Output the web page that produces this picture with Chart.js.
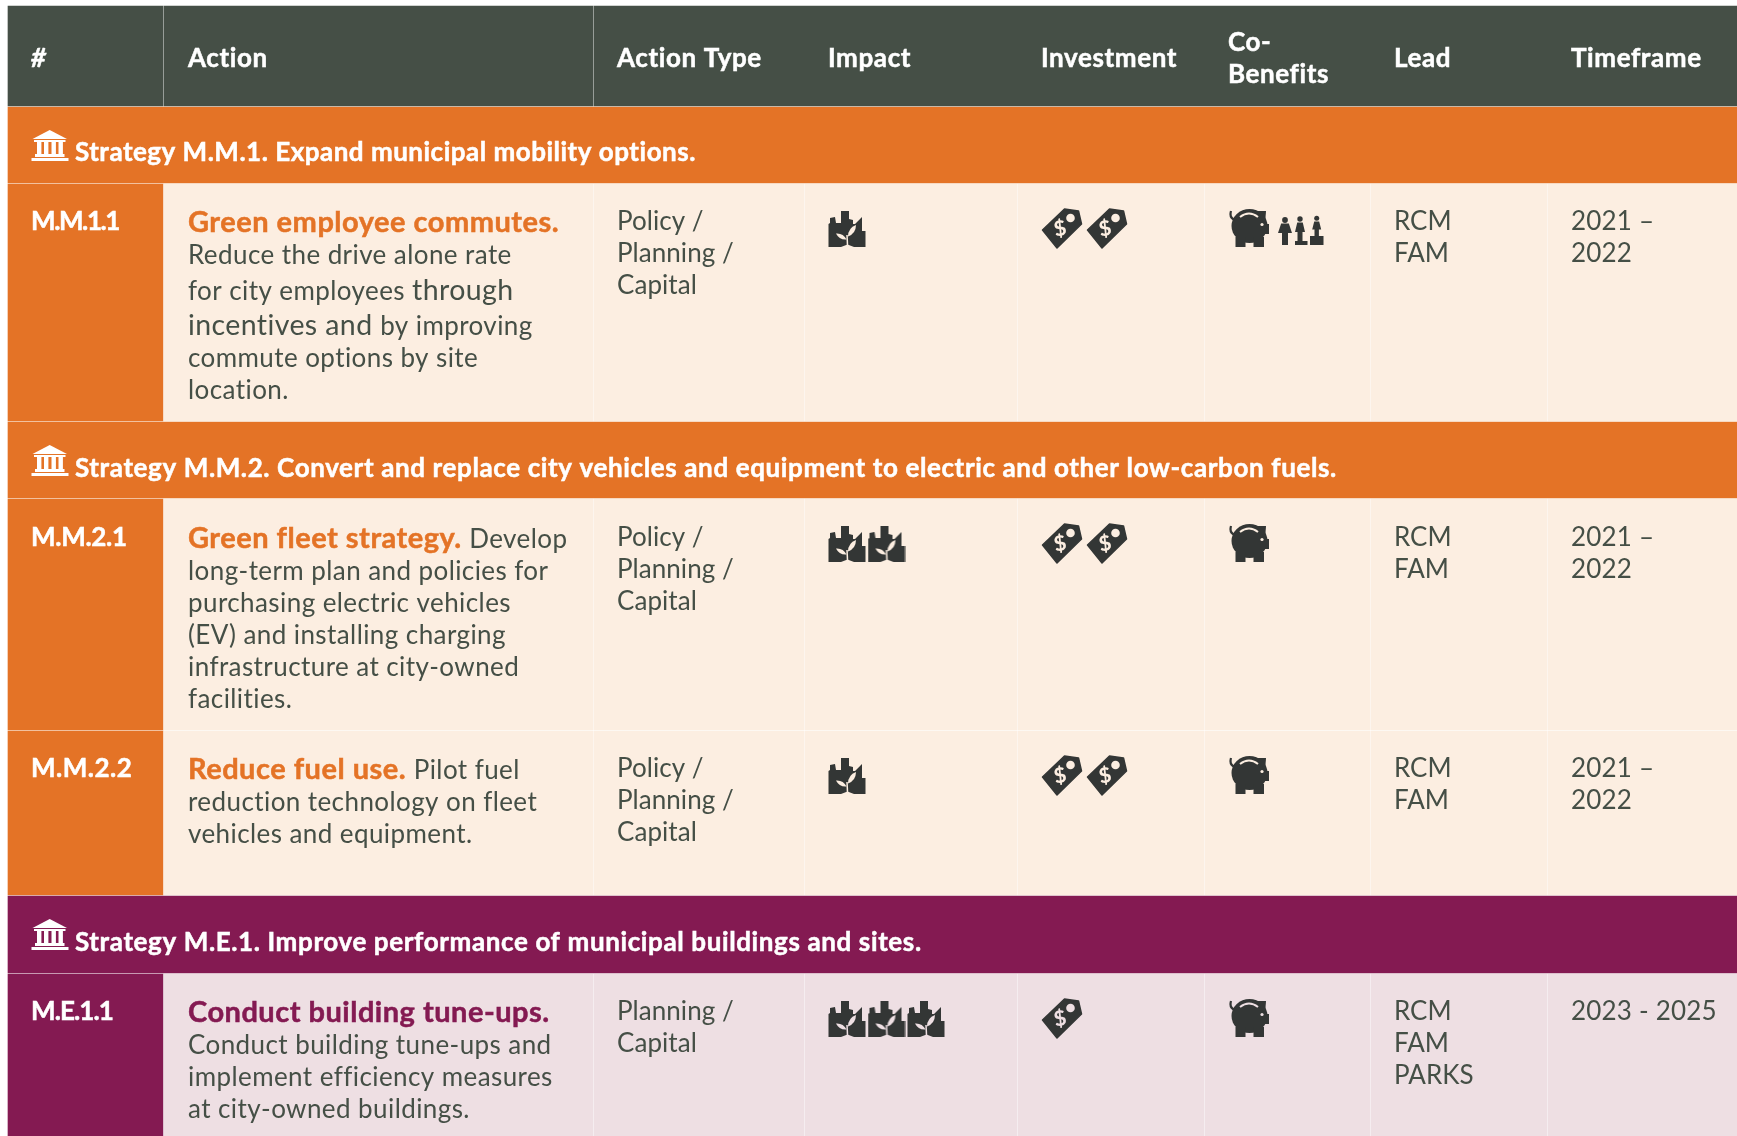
<!DOCTYPE html>
<html>
<head>
<meta charset="utf-8">
<title>Municipal strategy actions</title>
<style>
  html, body { margin: 0; padding: 0; background: #fff; overflow: hidden; }
  canvas { display: block; }
</style>
<script src="https://cdn.jsdelivr.net/npm/chart.js@4/dist/chart.umd.min.js"></script>
</head>
<body>
<canvas id="tableChart" width="1737" height="1136"></canvas>
<script>
// table content
const headers = ['#', 'Action', 'Action Type', 'Impact', 'Investment', ['Co-', 'Benefits'], 'Lead', 'Timeframe'];
const strategies = [
    'Strategy M.M.1. Expand municipal mobility options.',
    'Strategy M.M.2. Convert and replace city vehicles and equipment to electric and other low-carbon fuels.',
    'Strategy M.E.1. Improve performance of municipal buildings and sites.'
];
const rowIds = ['M.M.1.1', 'M.M.2.1', 'M.M.2.2', 'M.E.1.1'];
const rowStrategy = [0, 1, 1, 2];
// each line is a list of runs: t = title, b = body, B = the slightly bigger body text
const actionLines = [
    [[['t', 'Green employee commutes.']],
     [['b', 'Reduce the drive alone rate']],
     [['b', 'for city employees '], ['B', 'through']],
     [['B', 'incentives and '], ['b', 'by improving']],
     [['b', 'commute options by site']],
     [['b', 'location.']]],
    [[['t', 'Green fleet strategy. '], ['b', 'Develop']],
     [['b', 'long-term plan and policies for']],
     [['b', 'purchasing electric vehicles']],
     [['b', '(EV) and installing charging']],
     [['b', 'infrastructure at city-owned']],
     [['b', 'facilities.']]],
    [[['t', 'Reduce fuel use. '], ['b', 'Pilot fuel']],
     [['b', 'reduction technology on fleet']],
     [['b', 'vehicles and equipment.']]],
    [[['t', 'Conduct building tune-ups.']],
     [['b', 'Conduct building tune-ups and']],
     [['b', 'implement efficiency measures']],
     [['b', 'at city-owned buildings.']]]
];
const actionTypes = [
    ['Policy /', 'Planning /', 'Capital'],
    ['Policy /', 'Planning /', 'Capital'],
    ['Policy /', 'Planning /', 'Capital'],
    ['Planning /', 'Capital']
];
const impactCounts = [1, 2, 1, 3];
const investmentCounts = [2, 2, 2, 1];
const savingsCounts = [1, 1, 1, 1];
const equityCounts = [1, 0, 0, 0];
const leads = [['RCM', 'FAM'], ['RCM', 'FAM'], ['RCM', 'FAM'], ['RCM', 'FAM', 'PARKS']];
const timeframes = [['2021 –', '2022'], ['2021 –', '2022'], ['2021 –', '2022'], ['2023 - 2025']];

// layout of the sheet, in picture pixels
const W = 1737, H = 1136;
const colEdges = [8, 164, 594, 805, 1018, 1205, 1371, 1548, W];
const colText = [31, 188, 617, 828, 1041, 1228, 1394, 1571];
const headerBand = [6, 106];
const strategyBands = [[107, 183], [422, 498], [896, 973]];
const strategyBaselines = [54, 55, 55];
const strategySpacing = [0.5, 0.62, 0.62];
const rowBands = [[184, 421], [499, 730], [731, 895], [974, 1136]];
const cellBaselines = [46, 47, 46, 46];
const rowIdSpacing = [-1.4, -0.3, 0.5, -0.9];
const actionBaselines = [[48, 80, 116, 151, 183, 215], [49, 81, 113, 145, 177, 209], [48, 80, 112], [48, 80, 112, 144]];
const sheetColors = [
    { dark: '#E47326', light: '#FCEEE1' },
    { dark: '#E47326', light: '#FCEEE1' },
    { dark: '#841A52', light: '#EEDFE3' }
];
const textColor = '#454F46';
const iconColor = '#333635';
const fontFamily = 'Lato, "Open Sans", sans-serif';

function bar(band, cells, colors) {
    // one row of the table as floating horizontal bars
    return {
        type: 'bar', indexAxis: 'y', grouped: false, order: 2,
        barThickness: band[1] - band[0],
        backgroundColor: colors, borderWidth: 0,
        data: cells.map(c => ({ y: (band[0] + band[1]) / 2, x: c }))
    };
}

function iconCanvas(w, h, paint) {
    const c = document.createElement('canvas');
    c.width = w; c.height = h;
    const ctx = c.getContext('2d');
    ctx.fillStyle = iconColor;
    ctx.strokeStyle = iconColor;
    paint(ctx);
    return c;
}

function poly(ctx, pts) {
    ctx.beginPath();
    pts.forEach((p, i) => i ? ctx.lineTo(p[0], p[1]) : ctx.moveTo(p[0], p[1]));
    ctx.closePath();
    ctx.fill();
}

function leaf(ctx, x0, y0, x1, y1, bulge) {
    const mx = (x0 + x1) / 2, my = (y0 + y1) / 2;
    const nx = -(y1 - y0), ny = x1 - x0;
    ctx.beginPath();
    ctx.moveTo(x0, y0);
    ctx.quadraticCurveTo(mx + nx * bulge, my + ny * bulge, x1, y1);
    ctx.quadraticCurveTo(mx - nx * bulge, my - ny * bulge, x0, y0);
    ctx.fill();
}

const factoryIcon = iconCanvas(38, 38, ctx => {
    poly(ctx, [[0.5, 37], [0.5, 14], [2, 13], [2, 8], [7, 7], [8, 13], [13, 13], [13, 1], [21, 1], [21, 9], [25, 10], [25, 14], [27, 14], [33, 8], [34, 7], [34, 21], [37.5, 21], [37.5, 37], [26, 37], [19.5, 34.5], [13, 37]]);
    ctx.globalCompositeOperation = 'destination-out';
    leaf(ctx, 8, 23.5, 18.5, 29.5, 0.34);
    leaf(ctx, 20, 26.5, 28, 15, 0.34);
    ctx.lineWidth = 1.5;
    ctx.beginPath(); ctx.moveTo(19, 25); ctx.lineTo(19.5, 35); ctx.stroke();
});

const tagIcon = iconCanvas(46, 46, ctx => {
    ctx.lineJoin = 'round';
    ctx.lineWidth = 1.5;
    poly(ctx, [[2.5, 24], [24.5, 3], [38.5, 5], [41.5, 18], [17, 42]]);
    ctx.stroke();
    ctx.globalCompositeOperation = 'destination-out';
    ctx.beginPath(); ctx.arc(30.5, 12, 4.3, 0, Math.PI * 2); ctx.fill();
    ctx.translate(20, 23);
    ctx.rotate(-0.2);
    ctx.font = '900 21px ' + fontFamily;
    ctx.textAlign = 'center';
    ctx.textBaseline = 'middle';
    ctx.fillText('$', 0, 0);
});

const piggyIcon = iconCanvas(44, 42, ctx => {
    ctx.beginPath(); ctx.ellipse(21.5, 18, 18, 17, 0, 0, Math.PI * 2); ctx.fill();
    ctx.fillRect(7.5, 29, 10, 10);
    ctx.fillRect(25.5, 29, 10.5, 10);
    poly(ctx, [[29, 3], [38, 3], [37, 17]]);
    ctx.fillRect(36, 16, 5, 10);
    ctx.lineWidth = 2.2;
    ctx.beginPath(); ctx.moveTo(3, 3); ctx.quadraticCurveTo(1, 10, 7, 12); ctx.stroke();
    ctx.globalCompositeOperation = 'destination-out';
    ctx.lineWidth = 2;
    ctx.beginPath(); ctx.moveTo(12, 9); ctx.quadraticCurveTo(21, 2, 30, 9); ctx.stroke();
    ctx.beginPath(); ctx.arc(34, 16.5, 1.6, 0, Math.PI * 2); ctx.fill();
});

const peopleIcon = iconCanvas(48, 34, ctx => {
    const person = (cx, headY, r, sw, shoulderY, hipY, lw, footY) => {
        ctx.beginPath(); ctx.arc(cx, headY, r, 0, Math.PI * 2); ctx.fill();
        poly(ctx, [[cx - sw * 0.55, shoulderY], [cx + sw * 0.55, shoulderY], [cx + sw, hipY], [cx + lw, hipY], [cx + lw, footY], [cx - lw, footY], [cx - lw, hipY], [cx - sw, hipY]]);
    };
    person(7, 6, 2.9, 7, 9.5, 19, 3, 31);
    person(22, 5, 2.7, 5, 8.5, 18, 2.5, 27);
    person(38.7, 4.3, 2.5, 4.5, 7.5, 15.5, 2.2, 22);
    ctx.fillRect(17, 27, 12.5, 4);
    ctx.fillRect(32, 22, 13.5, 9);
});

const buildingIcon = iconCanvas(38, 32, ctx => {
    ctx.fillStyle = '#fff';
    poly(ctx, [[18.7, 0], [36, 9], [1.5, 9]]);
    ctx.fillRect(3, 10, 31.5, 2);
    [6, 13, 20.5, 27.5].forEach(x => ctx.fillRect(x, 11, 4.4, 13));
    ctx.fillRect(4, 24, 29.5, 3);
    ctx.fillRect(0.5, 28, 37, 3);
});

// icon marks are scatter points, one per count in the arrays above
function iconPoints(counts, startX, step, dy) {
    const pts = [];
    counts.forEach((n, r) => {
        for (let i = 0; i < n; i++) pts.push({ x: startX + i * step, y: rowBands[r][0] + dy });
    });
    return pts;
}

function iconDataset(icon, points) {
    return { type: 'scatter', order: 1, pointStyle: icon, pointRadius: 10, showLine: false, data: points };
}

const datasets = [];
datasets.push(bar(headerBand, [[colEdges[0], colEdges[1] - 1], [colEdges[1], colEdges[2] - 1], [colEdges[2], W]], '#454F46'));
strategyBands.forEach((b, i) => datasets.push(bar(b, [[colEdges[0], W]], sheetColors[i].dark)));
rowBands.forEach((b, r) => {
    const c = sheetColors[rowStrategy[r]];
    const cells = colEdges.slice(0, -1).map((e, i) => [e, colEdges[i + 1] - (i === 7 ? 0 : 1)]);
    datasets.push(bar(b, cells, cells.map((_, i) => i === 0 ? c.dark : c.light)));
});
datasets.push(iconDataset(factoryIcon, iconPoints(impactCounts, 847, 39.5, 45)));
datasets.push(iconDataset(tagIcon, iconPoints(investmentCounts, 1063, 45, 45)));
datasets.push(iconDataset(piggyIcon, iconPoints(savingsCounts, 1250, 0, 45)));
datasets.push(iconDataset(peopleIcon, iconPoints(equityCounts, 1302, 0, 47)));
datasets.push(iconDataset(buildingIcon, strategyBands.map(b => ({ x: 50, y: b[0] + 39 }))));

const runStyles = {
    t: { font: '700 29px ' + fontFamily, spacing: 0.5, heavy: true },
    b: { font: '400 26px ' + fontFamily, spacing: 0.42 },
    B: { font: '400 28.5px ' + fontFamily, spacing: 0.4 }
};

const tableText = {
    id: 'tableText',
    afterDatasetsDraw(chart) {
        const ctx = chart.ctx, sx = chart.scales.x, sy = chart.scales.y;
        const put = (text, x, y, font, color, spacing, heavy) => {
            ctx.font = font;
            ctx.fillStyle = color;
            ctx.letterSpacing = (spacing || 0) + 'px';
            const px = sx.getPixelForValue(x), py = sy.getPixelForValue(y);
            ctx.fillText(text, px, py);
            if (heavy) {
                // the reference bold is a little heavier than Lato's
                ctx.strokeStyle = color;
                ctx.lineWidth = 0.5;
                ctx.strokeText(text, px, py);
            }
            return ctx.measureText(text).width;
        };
        ctx.save();
        ctx.textBaseline = 'alphabetic';
        ctx.textAlign = 'left';
        const headFont = '700 26px ' + fontFamily;
        headers.forEach((h, i) => {
            if (Array.isArray(h)) {
                h.forEach((l, k) => put(l, colText[i], 51 + k * 32, headFont, '#fff', 0.6, true));
            } else {
                put(h, colText[i], 67, h === '#' ? 'italic ' + headFont : headFont, '#fff', 0.6, true);
            }
        });
        strategies.forEach((s, i) => {
            put(s, 75, strategyBands[i][0] + strategyBaselines[i], headFont, '#fff', strategySpacing[i], true);
        });
        rowBands.forEach((b, r) => {
            const top = b[0], color = sheetColors[rowStrategy[r]].dark, body = '400 26px ' + fontFamily;
            const base = top + cellBaselines[r];
            put(rowIds[r], colText[0], base, headFont, '#fff', rowIdSpacing[r], true);
            actionLines[r].forEach((runs, l) => {
                let x = colText[1];
                runs.forEach(run => {
                    const st = runStyles[run[0]];
                    x += put(run[1], x, top + actionBaselines[r][l], st.font, run[0] === 't' ? color : textColor, st.spacing, st.heavy);
                });
            });
            actionTypes[r].forEach((t, l) => put(t, colText[2], base + l * 32, body, textColor, 0.05));
            leads[r].forEach((t, l) => put(t, colText[6], base + l * 32, body, textColor, 0));
            timeframes[r].forEach((t, l) => put(t, colText[7], base + l * 32, body, textColor, 0.2));
        });
        ctx.restore();
    }
};

new Chart(document.getElementById('tableChart'), {
    data: { datasets: datasets },
    plugins: [tableText],
    options: {
        responsive: false,
        animation: false,
        layout: { padding: 0, autoPadding: false },
        plugins: { legend: { display: false }, tooltip: { enabled: false } },
        scales: {
            x: { type: 'linear', min: 0, max: W, offset: false, display: false },
            y: { type: 'linear', min: 0, max: H, reverse: true, offset: false, display: false }
        }
    }
});
</script>
</body>
</html>
